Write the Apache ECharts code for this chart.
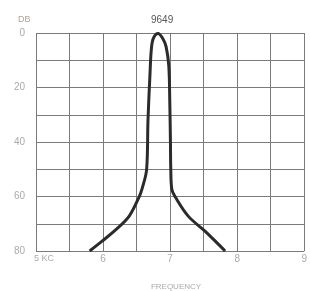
<!DOCTYPE html>
<html>
<head>
<meta charset="utf-8">
<script src="https://cdn.jsdelivr.net/npm/echarts@6/dist/echarts.min.js"></script>
<style>
  html, body { margin: 0; padding: 0; background: #fff; }
  #chart { width: 310px; height: 291px; }
</style>
</head>
<body>
<div id="chart"></div>
<script>
// frequency in KC, attenuation in DB (0 at top)
const freq = [5.80, 5.99, 6.20, 6.39, 6.535, 6.58, 6.65, 6.67, 6.70, 6.72, 6.75, 6.82, 6.89, 6.94, 6.98, 6.995, 7.005, 7.01, 7.025, 7.08, 7.27, 7.52, 7.67, 7.82];
const db   = [80,   76.3, 72,   67.2, 60.3,  57.3, 50,   32,   15,   6,    2,    0.2,  2,    5,    12,   25,    40,    50,   57.3,  60.3, 67.2, 72.7, 76.3, 80];
const xTicks = [5, 6, 7, 8, 9];
const yTicks = [0, 20, 40, 60, 80];

(function () {
  const chart = echarts.init(document.getElementById('chart'));
  const font = 'Liberation Sans, Arial, sans-serif';

  const option = {
    animation: false,
    backgroundColor: '#fff',
    title: [
      { text: '9649', left: 146, top: 10, textStyle: { fontSize: 10, fontWeight: 'normal', color: '#555', fontFamily: font } },
      { text: 'DB', left: 13, top: 10, textStyle: { fontSize: 9, fontWeight: 'normal', color: '#b8a291', fontFamily: font } },
      { text: 'FREQUENCY', left: 171, textAlign: 'center', top: 278, textStyle: { fontSize: 8, fontWeight: 'normal', color: '#aaa', fontFamily: font } }
    ],
    grid: { left: 36, right: 3, top: 33, bottom: 40 },
    xAxis: {
      type: 'value',
      min: 5,
      max: 9,
      interval: 0.5,
      axisLine: { show: false },
      axisTick: { show: false },
      splitLine: { show: true, lineStyle: { color: '#7a7a7a', width: 1 } },
      axisLabel: {
        margin: 3,
        fontSize: 10,
        fontFamily: font,
        color: '#aaa',
        showMaxLabel: true,
        formatter: function (v) {
          if (!xTicks.includes(v)) return '';
          if (v === 5) return '{k|5 KC}';
          return String(v);
        },
        rich: { k: { fontSize: 9, color: '#aaa', padding: [0, 0, 0, 16], fontFamily: font } }
      }
    },
    yAxis: {
      type: 'value',
      inverse: true,
      min: 0,
      max: 80,
      interval: 10,
      axisLine: { show: false },
      axisTick: { show: false },
      splitLine: { show: true, lineStyle: { color: '#7a7a7a', width: 1 } },
      axisLabel: {
        margin: 11,
        fontSize: 10,
        fontFamily: font,
        color: function (v) { return (v === 40 || v === 60) ? '#666' : '#aaa'; },
        formatter: function (v) { return yTicks.includes(v) ? String(v) : ''; }
      }
    },
    series: [{
      type: 'line',
      data: freq.map((f, i) => [f, db[i]]),
      smooth: 0.35,
      symbol: 'none',
      lineStyle: { color: '#2b2b2b', width: 3 }
    }]
  };

  chart.setOption(option);
})();
</script>
</body>
</html>
